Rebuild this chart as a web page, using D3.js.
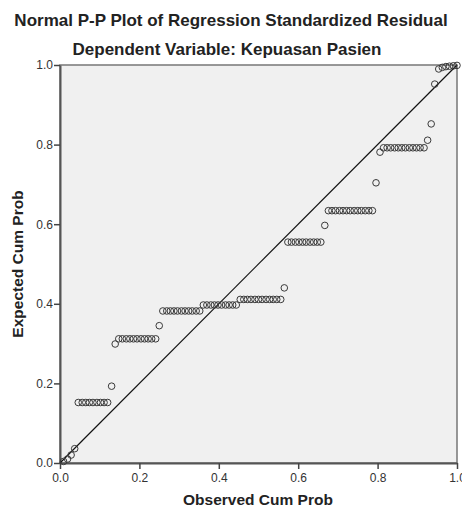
<!DOCTYPE html>
<html>
<head>
<meta charset="utf-8">
<script src="https://cdn.jsdelivr.net/npm/d3@7"></script>
<style>
  body { margin: 0; background: #fff; }
  svg { display: block; font-family: "Liberation Sans", Arial, sans-serif; }
</style>
</head>
<body>
<svg id="chart" width="462" height="512"></svg>
<script>
// observed cum prob (rank / n, n = 108)
var observed = [
  0.009, 0.019, 0.028, 0.037, 0.046, 0.056, 0.065, 0.074, 0.083, 0.093,
  0.102, 0.111, 0.120, 0.130, 0.139, 0.148, 0.157, 0.167, 0.176, 0.185,
  0.194, 0.204, 0.213, 0.222, 0.231, 0.241, 0.250, 0.259, 0.269, 0.278,
  0.287, 0.296, 0.306, 0.315, 0.324, 0.333, 0.343, 0.352, 0.361, 0.370,
  0.380, 0.389, 0.398, 0.407, 0.417, 0.426, 0.435, 0.444, 0.454, 0.463,
  0.472, 0.481, 0.491, 0.500, 0.509, 0.519, 0.528, 0.537, 0.546, 0.556,
  0.565, 0.574, 0.583, 0.593, 0.602, 0.611, 0.620, 0.630, 0.639, 0.648,
  0.657, 0.667, 0.676, 0.685, 0.694, 0.704, 0.713, 0.722, 0.731, 0.741,
  0.750, 0.759, 0.769, 0.778, 0.787, 0.796, 0.806, 0.815, 0.824, 0.833,
  0.843, 0.852, 0.861, 0.870, 0.880, 0.889, 0.898, 0.907, 0.917, 0.926,
  0.935, 0.944, 0.954, 0.963, 0.972, 0.981, 0.991, 1.000
];
// expected cum prob
var expected = [
  0.004, 0.010, 0.020, 0.036, 0.152, 0.152, 0.152, 0.152, 0.152, 0.152,
  0.152, 0.152, 0.152, 0.193, 0.299, 0.312, 0.312, 0.312, 0.312, 0.312,
  0.312, 0.312, 0.312, 0.312, 0.312, 0.312, 0.345, 0.382, 0.382, 0.382,
  0.382, 0.382, 0.382, 0.382, 0.382, 0.382, 0.382, 0.382, 0.397, 0.397,
  0.397, 0.397, 0.397, 0.397, 0.397, 0.397, 0.397, 0.397, 0.411, 0.411,
  0.411, 0.411, 0.411, 0.411, 0.411, 0.411, 0.411, 0.411, 0.411, 0.411,
  0.440, 0.555, 0.555, 0.555, 0.555, 0.555, 0.555, 0.555, 0.555, 0.555,
  0.555, 0.597, 0.634, 0.634, 0.634, 0.634, 0.634, 0.634, 0.634, 0.634,
  0.634, 0.634, 0.634, 0.634, 0.634, 0.704, 0.781, 0.792, 0.792, 0.792,
  0.792, 0.792, 0.792, 0.792, 0.792, 0.792, 0.792, 0.792, 0.792, 0.811,
  0.852, 0.952, 0.990, 0.994, 0.996, 0.997, 0.998, 0.999
];
var tickValues = [0, 0.2, 0.4, 0.6, 0.8, 1.0];

var title = "Normal P-P Plot of Regression Standardized Residual";
var subtitle = "Dependent Variable: Kepuasan Pasien";

var svg = d3.select("#chart");

//plot area (don't call it top, window.top is taken)
var pLeft = 60, pRight = 457, pTop = 65, pBottom = 463;

var x = d3.scaleLinear().domain([0, 1]).range([pLeft, pRight]);
var y = d3.scaleLinear().domain([0, 1]).range([pBottom, pTop]);

// background
svg.append("rect")
  .attr("x", pLeft).attr("y", pTop)
  .attr("width", pRight - pLeft).attr("height", pBottom - pTop)
  .attr("fill", "#f0f0f0")
  .attr("stroke", "#777")
  .attr("stroke-width", 1.5);

//titles
svg.append("text")
  .attr("x", 231).attr("y", 26)
  .attr("text-anchor", "middle")
  .style("font-size", "17px").style("font-weight", "bold")
  .attr("fill", "#222")
  .text(title);
svg.append("text")
  .attr("x", 227).attr("y", 55)
  .attr("text-anchor", "middle")
  .style("font-size", "17px").style("font-weight", "bold")
  .attr("fill", "#222")
  .text(subtitle);

// axes
var xAxis = d3.axisBottom(x).tickValues(tickValues).tickFormat(d3.format(".1f")).tickSize(6).tickSizeOuter(0);
var yAxis = d3.axisLeft(y).tickValues(tickValues).tickFormat(d3.format(".1f")).tickSize(6).tickSizeOuter(0);

var gx = svg.append("g")
  .attr("transform", "translate(0," + pBottom + ")")
  .call(xAxis);
var gy = svg.append("g")
  .attr("transform", "translate(" + pLeft + ",0)")
  .call(yAxis);

[gx, gy].forEach(function(g) {
  g.select(".domain").attr("stroke", "#555").attr("stroke-width", 2);
  g.selectAll(".tick line").attr("stroke", "#444").attr("stroke-width", 1.5);
  g.selectAll(".tick text")
    .attr("fill", "#333")
    .style("font-size", "12px")
    .style("font-family", "'Liberation Sans', Arial, sans-serif");
});
gx.selectAll(".tick text").attr("y", 10).attr("dy", "0.71em");
gy.selectAll(".tick text").attr("x", -7);

// axis labels
svg.append("text")
  .attr("x", 258).attr("y", 505)
  .attr("text-anchor", "middle")
  .style("font-size", "15.5px").style("font-weight", "bold")
  .attr("fill", "#222")
  .text("Observed Cum Prob");
svg.append("text")
  .attr("transform", "translate(23," + ((pTop + pBottom) / 2) + ") rotate(-90)")
  .attr("text-anchor", "middle")
  .style("font-size", "15.5px").style("font-weight", "bold")
  .attr("fill", "#222")
  .text("Expected Cum Prob");

// reference line
svg.append("line")
  .attr("x1", x(0)).attr("y1", y(0))
  .attr("x2", x(1)).attr("y2", y(1))
  .attr("stroke", "#111")
  .attr("stroke-width", 1.2);

// points
var pts = observed.map(function(o, i) { return {x: o, y: expected[i]}; });
svg.append("g").selectAll("circle")
  .data(pts)
  .enter().append("circle")
  .attr("cx", function(d) { return x(d.x); })
  .attr("cy", function(d) { return y(d.y); })
  .attr("r", 3.3)
  .attr("fill", "none")
  .attr("stroke", "#3a3a3a")
  .attr("stroke-width", 1);
</script>
</body>
</html>
